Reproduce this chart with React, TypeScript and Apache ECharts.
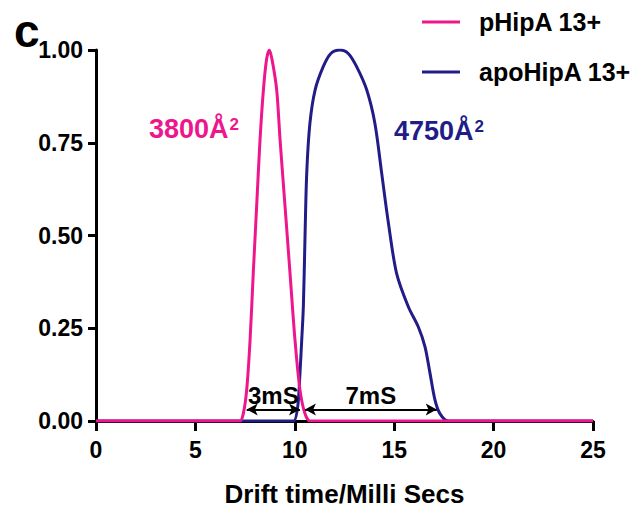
import React, { useEffect, useRef } from "react";
import * as echarts from "echarts";

const PINK = "#EE168C";
const NAVY = "#211C88";
const FONT = "Liberation Sans, Arial, sans-serif";

const seriesNames = ["pHipA 13+", "apoHipA 13+"];

const pinkX = [0, 7.0, 7.24, 7.41, 7.58, 7.75, 7.91, 8.08, 8.25, 8.42, 8.58, 8.72, 8.87, 9.09, 9.26, 9.51, 9.76, 10.01, 10.26, 10.51, 10.76, 11.0, 25];
const pinkY = [0, 0, 0, 0.02, 0.084, 0.218, 0.398, 0.578, 0.757, 0.892, 0.975, 1.0, 0.97, 0.892, 0.757, 0.578, 0.398, 0.218, 0.084, 0.02, 0, 0, 0];

const navyX = [0, 9.7, 9.95, 10.15, 10.26, 10.35, 10.43, 10.51, 10.6, 10.76, 11.02, 11.43, 11.8, 12.27, 12.7, 13.11, 13.62, 14.03, 14.37, 14.71, 15.12, 15.71, 16.21, 16.55, 16.8, 17.05, 17.3, 17.72, 18.0, 25];
const navyY = [0, 0, 0, 0.04, 0.129, 0.22, 0.308, 0.488, 0.668, 0.802, 0.892, 0.955, 0.99, 1.0, 0.99, 0.955, 0.892, 0.802, 0.668, 0.533, 0.398, 0.308, 0.254, 0.2, 0.129, 0.057, 0.02, 0, 0, 0];

const arrowY = 0.031;
const arrow3 = [7.58, 10.26];
const arrow7 = [10.51, 17.14];
const arrowLabels = ["3mS", "7mS"];

const xTicks = [0, 5, 10, 15, 20, 25];
const yTicks = [0, 0.25, 0.5, 0.75, 1.0];

const areaValues = ["3800", "4750"];

export default function App() {
  const ref = useRef<HTMLDivElement>(null);
  useEffect(() => {
    if (!ref.current) return;
    const chart = echarts.init(ref.current, null, { renderer: "svg" });
    const pinkData = pinkX.map((x, i) => [x, pinkY[i]]);
    const navyData = navyX.map((x, i) => [x, navyY[i]]);
    const axisLine = { show: true, lineStyle: { color: "#000", width: 3 } };
    const axisTick = { show: true, length: 8, lineStyle: { color: "#000", width: 3 } };
    const labelStyle = { color: "#000", fontFamily: FONT, fontWeight: "bold" as const, fontSize: 23 };
    const arrowLine = (a: number[], label: string) => [
      { coord: [a[0], arrowY], label: { formatter: label } },
      { coord: [a[1], arrowY] },
    ];
    const areaText = (v: string, color: string) => ({
      text: `{a|${v}Å}{s|2}`,
      fill: color,
      rich: {
        a: { fontFamily: FONT, fontWeight: "bold", fontSize: 27, lineHeight: 30, fill: color },
        s: { fontFamily: FONT, fontWeight: "bold", fontSize: 17, verticalAlign: "top", lineHeight: 30, padding: [2, 0, 0, 1], fill: color },
      },
    });
    chart.setOption({
      animation: false,
      backgroundColor: "#fff",
      grid: { left: 96, right: 50, top: 50, bottom: 93 },
      legend: {
        orient: "vertical",
        left: 417,
        top: 3,
        itemWidth: 38,
        itemHeight: 3,
        itemGap: 22,
        icon: "rect",
        data: seriesNames,
        textStyle: { color: "#000", fontFamily: FONT, fontWeight: "bold", fontSize: 25, lineHeight: 28, padding: [0, 0, 0, 14] },
      },
      xAxis: {
        type: "value",
        min: 0,
        max: 25,
        interval: 5,
        name: "Drift time/Milli Secs",
        nameLocation: "middle",
        nameGap: 60,
        nameTextStyle: { color: "#000", fontFamily: FONT, fontWeight: "bold", fontSize: 26 },
        axisLine,
        axisTick: { ...axisTick, length: 10 },
        splitLine: { show: false },
        axisLabel: { ...labelStyle, margin: 17, formatter: (v: number) => (xTicks.includes(v) ? String(v) : "") },
      },
      yAxis: {
        type: "value",
        min: 0,
        max: 1,
        interval: 0.25,
        axisLine,
        axisTick,
        splitLine: { show: false },
        axisLabel: { ...labelStyle, margin: 13, formatter: (v: number) => (yTicks.includes(v) ? v.toFixed(2) : "") },
      },
      series: [
        {
          name: seriesNames[0],
          type: "line",
          data: pinkData,
          symbol: "none",
          smooth: 0.3,
          z: 4,
          color: PINK,
          lineStyle: { color: PINK, width: 3 },
        },
        {
          name: seriesNames[1],
          type: "line",
          data: navyData,
          symbol: "none",
          smooth: 0.3,
          z: 3,
          color: NAVY,
          lineStyle: { color: NAVY, width: 3 },
          markLine: {
            silent: true,
            symbol: ["arrow", "arrow"],
            symbolSize: [9, 11],
            lineStyle: { color: "#000", width: 2, type: "solid" },
            label: {
              show: true,
              position: "middle",
              distance: 2,
              color: "#000",
              fontFamily: FONT,
              fontWeight: "bold",
              fontSize: 24,
            },
            data: [arrowLine(arrow3, arrowLabels[0]), arrowLine(arrow7, arrowLabels[1])],
          },
        },
      ],
      graphic: [
        {
          type: "text",
          left: 14,
          top: 8,
          style: { text: "c", fill: "#000", font: `bold 46px ${FONT}` },
        },
        {
          type: "text",
          left: 149,
          top: 114,
          style: areaText(areaValues[0], PINK),
        },
        {
          type: "text",
          left: 394,
          top: 116,
          style: areaText(areaValues[1], NAVY),
        },
      ],
    });
    return () => chart.dispose();
  }, []);
  return <div ref={ref} style={{ position: "fixed", left: 0, top: 0, width: 643, height: 514 }} />;
}
